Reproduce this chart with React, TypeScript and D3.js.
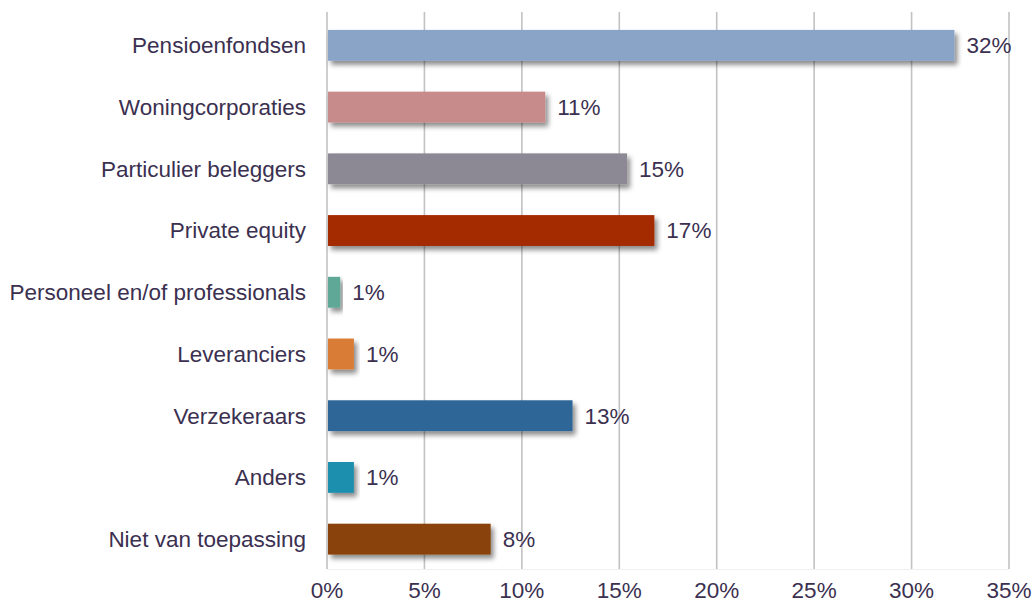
import React from "react";
import * as d3 from "d3";

const categories = [
  "Pensioenfondsen",
  "Woningcorporaties",
  "Particulier beleggers",
  "Private equity",
  "Personeel en/of professionals",
  "Leveranciers",
  "Verzekeraars",
  "Anders",
  "Niet van toepassing",
];
const values = [32.2, 11.2, 15.4, 16.8, 0.68, 1.38, 12.6, 1.38, 8.4];
const labels = ["32%", "11%", "15%", "17%", "1%", "1%", "13%", "1%", "8%"];
const colors = [
  "#8aa4c7",
  "#c68b8a",
  "#8c8994",
  "#a42900",
  "#5ea797",
  "#d97b35",
  "#2f6698",
  "#1d8fae",
  "#8a430a",
];
const ticks = [0, 5, 10, 15, 20, 25, 30, 35];

const width = 1034;
const height = 606;
const textColor = "#3b3050";
const font = "'Liberation Sans', Arial, sans-serif";
const fs = 22.5;

export default function App() {
  const x = d3.scaleLinear().domain([0, 35]).range([327, 1009]);
  const y = d3
    .scaleBand<string>()
    .domain(categories)
    .range([14.5, 570])
    .paddingInner(0.5)
    .paddingOuter(0.25);

  return (
    <svg
      width={width}
      height={height}
      style={{ position: "absolute", left: 0, top: 0, background: "#fff" }}
      fontFamily={font}
    >
      <defs>
        <filter id="shadow" x="-10%" y="-30%" width="130%" height="180%">
          <feDropShadow dx="3" dy="4" stdDeviation="2.5" floodColor="#000" floodOpacity="0.45" />
        </filter>
      </defs>

      {/* gridlines */}
      {ticks.map((t) => (
        <line
          key={t}
          x1={x(t)}
          x2={x(t)}
          y1={12}
          y2={569}
          stroke="#c2c2c2"
          strokeWidth={1.6}
        />
      ))}
      <line x1={x(0)} x2={x(35)} y1={569.5} y2={569.5} stroke="#f0f0f0" strokeWidth={1} />

      {/* bars */}
      {categories.map((c, i) => (
        <rect
          key={c}
          x={x(0) + 1}
          y={y(c)}
          width={x(values[i]) - x(0) - 1}
          height={y.bandwidth()}
          fill={colors[i]}
          filter="url(#shadow)"
        />
      ))}

      {/* value labels */}
      {categories.map((c, i) => (
        <text
          key={c}
          x={x(values[i]) + 12}
          y={(y(c) ?? 0) + y.bandwidth() / 2}
          dy="0.35em"
          fontSize={fs}
          fill={textColor}
        >
          {labels[i]}
        </text>
      ))}

      {/* category labels */}
      {categories.map((c) => (
        <text
          key={c}
          x={306}
          y={(y(c) ?? 0) + y.bandwidth() / 2}
          dy="0.35em"
          textAnchor="end"
          fontSize={fs}
          fill={textColor}
        >
          {c}
        </text>
      ))}

      {/* x tick labels */}
      {ticks.map((t) => (
        <text
          key={t}
          x={x(t)}
          y={590}
          dy="0.35em"
          textAnchor="middle"
          fontSize={fs}
          fill={textColor}
        >
          {t}%
        </text>
      ))}
    </svg>
  );
}
